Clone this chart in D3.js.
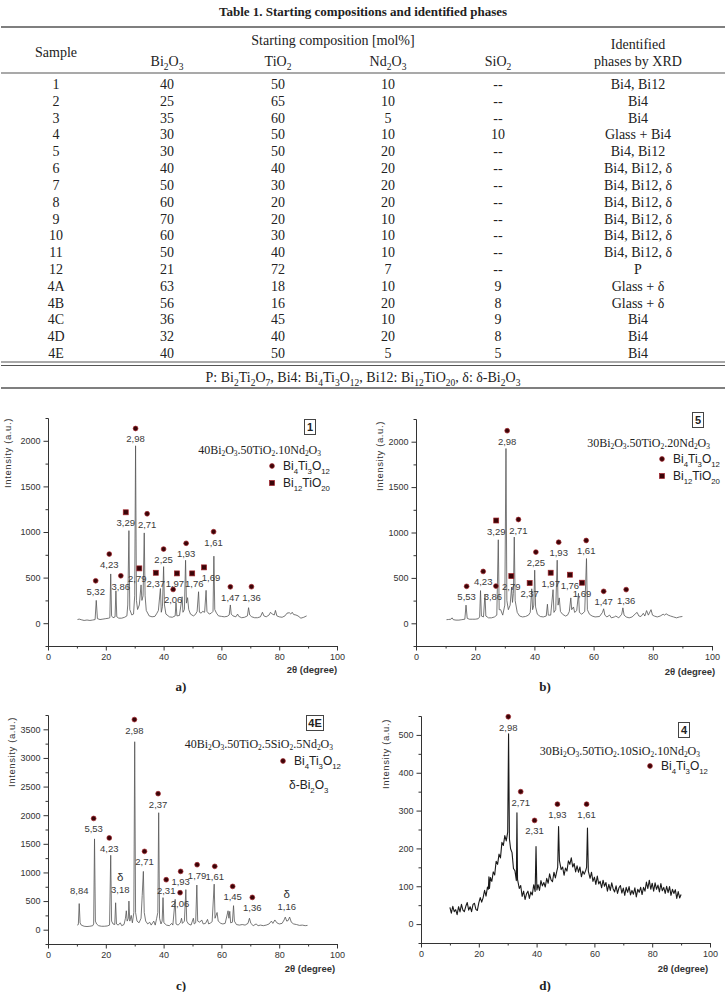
<!DOCTYPE html>
<html><head><meta charset="utf-8">
<script src="https://cdn.jsdelivr.net/npm/d3@7/dist/d3.min.js"></script>
<style>body{margin:0;background:#fff}svg{display:block}</style>
</head><body>
<svg id="fig" width="726" height="992"></svg>
<script>
// ---------- TABLE DATA ----------
const tableSamples = ["1","2","3","4","5","6","7","8","9","10","11","12","4A","4B","4C","4D","4E"];
const tableBi2O3 = ["40","25","35","30","30","40","50","60","70","60","50","21","63","56","36","32","40"];
const tableTiO2  = ["50","65","60","50","50","40","30","20","20","30","40","72","18","16","45","40","50"];
const tableNd2O3 = ["10","10","5","10","20","20","20","20","10","10","10","7","10","20","10","20","5"];
const tableSiO2  = ["--","--","--","10","--","--","--","--","--","--","--","--","9","8","9","8","5"];
const tablePhases = ["Bi4, Bi12","Bi4","Bi4","Glass + Bi4","Bi4, Bi12","Bi4, Bi12, δ","Bi4, Bi12, δ","Bi4, Bi12, δ","Bi4, Bi12, δ","Bi4, Bi12, δ","Bi4, Bi12, δ","P","Glass + δ","Glass + δ","Bi4","Bi4","Bi4"];
const tableOxides = ["Bi_2O_3","TiO_2","Nd_2O_3","SiO_2"];
const tableFootnote = "P: Bi_2Ti_2O_7, Bi4: Bi_4Ti_3O_12, Bi12: Bi_12TiO_20, δ: δ-Bi_2O_3";

// ---------- XRD DATA ----------
const xTicks = [0,20,40,60,80,100];
const xMinor = [10,30,50,70,90];
const yTicksAB = [0,500,1000,1500,2000];
const yTicksC = [0,500,1000,1500,2000,2500,3000,3500];
const yTicksD = [0,100,200,300,400,500];

const spectrumA = [[10.2,40],[10.8,45],[11.5,38],[12.5,30],[13.5,35],[14.5,30],[15.5,35],[16.3,40],[16.7,250],[17.1,50],[18,40],[19,45],[20,50],[21,55],[21.4,60],[21.7,540],[22.0,80],[22.5,60],[23.2,70],[23.5,355],[23.8,70],[24.5,55],[25.5,55],[26.5,65],[27.3,80],[27.6,200],[28.0,1015],[28.3,150],[29,90],[29.6,100],[30.0,300],[30.3,1945],[30.6,250],[31,150],[31.6,200],[32.2,420],[32.5,250],[32.9,300],[33.3,990],[33.6,300],[34,140],[35,80],[36,70],[37,75],[37.7,110],[38.2,140],[38.9,380],[39.2,120],[39.6,180],[40.0,620],[40.3,200],[40.8,100],[42,70],[43,65],[44.0,80],[44.3,225],[44.6,80],[45.5,85],[46.4,290],[46.7,120],[47.2,150],[47.6,690],[47.9,220],[48.3,280],[48.7,150],[49.3,100],[50.3,80],[51,95],[51.6,130],[52.1,345],[52.4,120],[53,110],[53.5,130],[54.2,120],[54.7,360],[55,130],[55.8,100],[56.5,110],[57.1,130],[57.4,735],[57.7,150],[58.3,110],[59,80],[60,75],[61,70],[62,75],[62.7,90],[63.1,200],[63.4,100],[64,80],[65,70],[65.6,100],[66,75],[67,60],[68,65],[69,80],[69.4,170],[69.8,90],[70.5,70],[71.5,60],[72.5,60],[73.5,70],[74.2,120],[74.7,80],[75.5,70],[76.5,90],[77,120],[77.6,100],[78.3,90],[78.7,140],[79.2,80],[80,70],[81,65],[82,80],[82.7,110],[83.5,115],[84,100],[84.5,120],[85,95],[85.8,90],[86.5,80],[87.5,55],[88.5,65],[89.5,80]];

const spectrumB = [[10.3,40],[11,42],[11.8,45],[12.2,60],[12.6,40],[13.5,35],[14.5,35],[15.5,40],[16.5,45],[16.9,200],[17.3,55],[18,45],[19,45],[20,45],[21,50],[21.5,70],[21.8,360],[22.1,80],[22.8,70],[23.3,320],[23.6,80],[24.5,60],[25.5,60],[26.5,70],[27.3,90],[27.8,920],[28.1,150],[28.6,150],[29.3,90],[30.0,200],[30.4,1925],[30.7,250],[31.2,150],[31.8,200],[32.3,400],[32.6,230],[32.9,330],[33.2,950],[33.5,250],[34.2,120],[35,80],[36,70],[37,75],[38,90],[38.6,120],[39.1,380],[39.4,150],[39.8,200],[40.1,585],[40.4,180],[41,100],[42,75],[43,70],[44.0,80],[44.4,210],[44.7,90],[45.5,90],[46.3,370],[46.6,120],[47.2,150],[47.7,695],[48.0,200],[48.4,280],[48.8,130],[49.5,100],[50.5,80],[51.2,90],[51.8,130],[52.3,280],[52.6,150],[53.2,180],[53.6,120],[54.3,140],[54.9,330],[55.2,120],[56,100],[57,130],[57.6,713],[57.9,150],[58.6,100],[59.5,80],[60.5,70],[62,75],[63,120],[63.4,160],[63.8,90],[64.5,70],[65.4,90],[66,60],[67,70],[67.5,80],[68.5,60],[69.5,100],[69.9,170],[70.3,90],[71,70],[72,60],[73,70],[74.3,110],[74.7,120],[75.3,80],[76,75],[76.8,110],[77.3,80],[77.9,140],[78.5,90],[79.4,150],[79.9,90],[80.5,80],[81.5,70],[82.5,80],[83.5,100],[84,90],[84.5,105],[85.2,90],[86,80],[87,70],[88,60],[89,70],[90,75]];

const spectrumC = [[10.1,80],[10.5,90],[10.8,456],[11.1,120],[11.5,80],[12.5,60],[13.5,55],[14.5,60],[15.5,70],[15.8,100],[16.1,1586],[16.4,150],[16.8,100],[17.5,70],[18.5,60],[19.5,60],[20.5,65],[21.3,80],[21.7,1300],[22.0,150],[22.5,100],[23.1,90],[23.4,470],[23.7,100],[24.3,80],[25,120],[25.5,70],[26.3,90],[26.8,200],[27.1,330],[27.4,150],[27.8,200],[28.0,500],[28.3,150],[28.8,250],[29.2,120],[29.7,300],[30.0,3283],[30.3,300],[30.8,150],[31.5,120],[32.2,200],[32.6,600],[33.0,1018],[33.3,300],[33.8,150],[34.5,100],[35.2,130],[35.7,80],[36.6,150],[37.1,80],[37.6,200],[38.0,300],[38.3,2043],[38.6,200],[39.1,100],[39.5,150],[39.8,560],[40.1,120],[41,80],[42,70],[42.8,110],[43.2,80],[44.0,530],[44.3,100],[45,80],[45.8,120],[46.2,200],[46.5,110],[47.2,150],[47.7,700],[48.0,150],[48.6,100],[49.5,80],[50.3,200],[50.6,100],[51.1,120],[51.5,780],[51.8,150],[52.5,130],[53.2,170],[53.7,100],[54.5,110],[55.2,180],[55.6,100],[56.3,120],[56.8,140],[57.5,795],[57.8,200],[58.5,300],[58.9,150],[59.8,110],[60.5,100],[61.3,110],[62.3,330],[62.6,200],[62.9,320],[63.2,120],[63.8,130],[64.2,420],[64.5,150],[65.2,90],[66.2,80],[67.2,90],[68.2,80],[69.2,110],[69.7,200],[70.2,110],[71,70],[72,100],[72.7,70],[73.5,80],[74.5,70],[75.5,80],[76.5,100],[77.3,150],[77.8,110],[78.5,170],[79.2,120],[80,100],[81,110],[81.7,170],[82.1,220],[82.6,150],[83.1,160],[83.6,220],[84.2,130],[85,100],[86,90],[87,75],[88,80],[89,70],[89.8,75]];

const spectrumD = [[10.0,44],[10.5,29],[11.0,47],[11.5,33],[12.0,38],[12.5,25],[13.0,46],[13.5,32],[14.0,52],[14.5,37],[15.0,33],[15.5,47],[16.0,57],[16.5,37],[17.0,46],[17.5,33],[18.0,52],[18.5,55],[19.0,39],[19.5,36],[20.0,56],[20.5,70],[21.0,58],[21.5,70],[22.0,89],[22.5,74],[23.0,98],[23.3,92],[23.5,125],[23.7,94],[24.0,123],[24.5,113],[25.0,138],[25.5,130],[26.0,166],[26.5,158],[27.0,185],[27.5,175],[28.0,216],[28.5,208],[29.0,234],[29.5,220],[30.0,243],[30.3,503],[30.6,225],[31.0,199],[31.5,189],[32.0,147],[32.5,141],[33.0,115],[33.2,294],[33.4,118],[34.0,94],[34.5,102],[35.0,73],[35.5,87],[36.0,65],[36.5,80],[37.0,87],[37.5,68],[38.0,85],[38.5,77],[39.0,104],[39.5,86],[39.8,205],[40.1,90],[40.5,104],[41.0,89],[41.5,115],[42.0,101],[42.5,110],[43.0,98],[43.5,121],[44.0,108],[44.5,133],[45.0,117],[45.5,112],[46.0,137],[46.5,122],[47.0,140],[47.3,150],[47.6,258],[47.9,168],[48.5,144],[49.0,151],[49.5,129],[50.0,148],[50.5,140],[51.0,167],[51.5,158],[52.0,175],[52.5,151],[53.0,160],[53.5,138],[54.0,154],[54.5,137],[55.0,151],[55.5,125],[56.0,140],[56.5,132],[57.0,142],[57.3,150],[57.6,254],[57.9,140],[58.5,121],[59.0,137],[59.5,113],[60.0,124],[60.5,105],[61.0,127],[61.5,106],[62.0,113],[62.5,96],[63.0,116],[63.5,100],[64.0,110],[64.5,87],[65.0,105],[65.5,89],[66.0,109],[66.5,93],[67.0,85],[67.5,101],[68.0,81],[68.5,96],[69.0,102],[69.5,82],[70.0,95],[70.5,76],[71.0,97],[71.5,84],[72.0,99],[72.5,77],[73.0,89],[73.5,79],[74.0,96],[74.5,72],[75.0,92],[75.5,84],[76.0,97],[76.5,78],[77.0,97],[77.5,87],[78.0,111],[78.5,94],[79.0,116],[79.5,92],[80.0,108],[80.5,87],[81.0,109],[81.5,92],[82.0,103],[82.5,85],[83.0,107],[83.5,88],[84.0,97],[84.5,81],[85.0,100],[85.5,83],[86.0,99],[86.5,76],[87.0,92],[87.5,81],[88.0,91],[88.5,68],[89.0,86],[89.5,69],[90.0,78]];

// peak annotations: [2θ, intensity of marker, label, kind]
const marksA = [[16.5,465,"5,32","c"],[21.2,758,"4,23","c"],[25.2,520,"3,86","c"],[26.9,1216,"3,29","s"],[30.3,2135,"2,98","c"],[31.6,601,"2,79","s"],[34.3,1200,"2,71","c"],[37.3,553,"2,37","s"],[40.0,813,"2,25","c"],[43.3,370,"2,06","c"],[44.6,546,"1,97","s"],[47.8,876,"1,93","c"],[49.9,546,"1,76","s"],[54.0,612,"1,69","s"],[57.3,1003,"1,61","c"],[63.1,399,"1,47","c"],[70.4,400,"1,36","c"]];
const marksB = [[17.1,407,"5,53","c"],[22.7,571,"4,23","c"],[27.0,410,"3,86","c"],[27.1,1132,"3,29","s"],[30.8,2121,"2,98","c"],[32.2,520,"2,79","s"],[34.6,1143,"2,71","c"],[38.4,443,"2,37","s"],[40.5,784,"2,25","c"],[45.5,557,"1,97","s"],[48.2,893,"1,93","c"],[52.0,535,"1,76","s"],[56.1,447,"1,69","s"],[57.5,912,"1,61","c"],[63.4,352,"1,47","c"],[71.0,371,"1,36","c"]];
const marksC = [[10.8,700,"8,84","n"],[15.8,1943,"5,53","c"],[21.2,1602,"4,23","c"],[25.0,925,"3,18","d"],[29.9,3670,"2,98","c"],[33.4,1368,"2,71","c"],[38.1,2376,"2,37","c"],[40.9,873,"2,31","c"],[45.9,1018,"1,93","c"],[45.7,646,"2,06","c"],[51.6,1135,"1,79","c"],[57.7,1106,"1,61","c"],[63.9,756,"1,45","c"],[70.7,564,"1,36","c"],[82.6,623,"1,16","d"]];
const marksD = [[30.2,548,"2,98","c"],[34.5,350,"2,71","c"],[39.3,274,"2,31","c"],[47.2,317,"1,93","c"],[57.3,317,"1,61","c"]];

// ---------- helpers ----------
const svg = d3.select("#fig");
svg.append("rect").attr("width",726).attr("height",992).attr("fill","#fff");
const SERIF = "'Liberation Serif','Times New Roman',serif";
const SANS = "'Liberation Sans',Arial,sans-serif";

function rich(t, str, fs, subRatio = 0.68, shift = 0.28) {
  const parts = str.split(/(_\d+)/);
  let sub = false;
  parts.forEach(p => {
    if (!p) return;
    if (p.startsWith("_")) {
      t.append("tspan").attr("dy", sub ? 0 : fs * shift).attr("font-size", fs * subRatio).text(p.slice(1));
      sub = true;
    } else {
      t.append("tspan").attr("dy", sub ? -fs * shift : 0).text(p);
      sub = false;
    }
  });
  return t;
}

// ---------- TABLE ----------
const tbl = svg.append("g").attr("font-family", SERIF).attr("fill", "#222");
tbl.append("text").attr("x", 363).attr("y", 16).attr("text-anchor","middle")
   .attr("font-size", 13).attr("font-weight","bold").text("Table 1. Starting compositions and identified phases");

const rules = [[27,1.6],[73,1.2],[362,1],[365.5,1],[388,1.6]];
tbl.selectAll("line.rule").data(rules).join("line").attr("class","rule")
   .attr("x1",1).attr("x2",725).attr("y1",d=>d[0]).attr("y2",d=>d[0])
   .attr("stroke","#555").attr("stroke-width",d=>d[1]);

const colX = d3.scaleOrdinal().domain(["s","bi","ti","nd","si","ph"]).range([56,167,278,388,498,638]);
tbl.append("text").attr("x",333).attr("y",45).attr("text-anchor","middle").attr("font-size",14).text("Starting composition [mol%]");
tbl.append("text").attr("x",colX("s")).attr("y",57).attr("text-anchor","middle").attr("font-size",14).text("Sample");
tbl.append("text").attr("x",colX("ph")).attr("y",49).attr("text-anchor","middle").attr("font-size",14).text("Identified");
tbl.append("text").attr("x",colX("ph")).attr("y",66).attr("text-anchor","middle").attr("font-size",14).text("phases by XRD");
["bi","ti","nd","si"].forEach((k,i) => {
  rich(tbl.append("text").attr("x",colX(k)).attr("y",66).attr("text-anchor","middle").attr("font-size",14), tableOxides[i], 14);
});

const rowY = d3.scaleLinear().domain([0,16]).range([89,358]);
const cols = [["s",tableSamples],["bi",tableBi2O3],["ti",tableTiO2],["nd",tableNd2O3],["si",tableSiO2],["ph",tablePhases]];
cols.forEach(([k,arr]) => {
  tbl.selectAll(null).data(arr).join("text")
    .attr("x", colX(k)).attr("y",(d,i)=>rowY(i)).attr("text-anchor","middle").attr("font-size",14).text(d=>d);
});
rich(tbl.append("text").attr("x",363).attr("y",382).attr("text-anchor","middle").attr("font-size",14), tableFootnote, 14);

// ---------- PANELS ----------
const panels = [
  {data: spectrumA, marks: marksA, xr:[48,337], yb:646, yt:418, yd:[-250,2250], yt_:yTicksAB, ym:250,
   box:"1", boxC:[310,427], comp:"40Bi_2O_3.50TiO_2.10Nd_2O_3", compR:[321,454],
   leg:[[272,466,"c","Bi_4Ti_3O_12"],[272,483,"s","Bi_12TiO_20"]],
   ylab:[8,453], xlab:[312,673], cap:["a)",181,691], lineCol:"#555", lw:0.8,
   labShift:{"2,79":-2,"2,37":0,"1,97":-2,"1,76":2,"1,69":7}},
  {data: spectrumB, marks: marksB, xr:[416,712], yb:646, yt:419, yd:[-250,2250], yt_:yTicksAB, ym:250,
   box:"5", boxC:[698,420], comp:"30Bi_2O_3.50TiO_2.20Nd_2O_3", compR:[710,447],
   leg:[[662,459,"c","Bi_4Ti_3O_12"],[662,476,"s","Bi_12TiO_20"]],
   ylab:[380,456], xlab:[690,675], cap:["b)",545,691], lineCol:"#555", lw:0.8, labShift:{"3,86":-3}},
  {data: spectrumC, marks: marksC, xr:[48,337], yb:944, yt:715, yd:[-250,3750], yt_:yTicksC, ym:250,
   box:"4E", boxC:[315,723], comp:"40Bi_2O_3.50TiO_2.5SiO_2.5Nd_2O_3", compR:[333,748],
   leg:[[283,761,"c","Bi_4Ti_3O_12"],[283,785,"n","δ-Bi_2O_3"]],
   ylab:[12,752], xlab:[310,972], cap:["c)",181,990], lineCol:"#555", lw:0.8, labShift:{}},
  {data: spectrumD, marks: marksD, xr:[421,710], yb:943, yt:716, yd:[-50,550], yt_:yTicksD, ym:50,
   box:"4", boxC:[684,730], comp:"30Bi_2O_3.50TiO_2.10SiO_2.10Nd_2O_3", compR:[700,755],
   leg:[[650,766,"c","Bi_4Ti_3O_12"]],
   ylab:[386,754], xlab:[683,972], cap:["d)",545,990], lineCol:"#1a1a1a", lw:1.1, labShift:{}}
];

const MARK_FILL = "#3a0508", MARK_STROKE = "#a3232a";
function drawMark(g, kind, cx, cy) {
  if (kind === "c") g.append("circle").attr("cx",cx).attr("cy",cy).attr("r",2.4).attr("fill",MARK_FILL).attr("stroke",MARK_STROKE).attr("stroke-width",0.7);
  else if (kind === "s") g.append("rect").attr("x",cx-2.5).attr("y",cy-2.5).attr("width",5).attr("height",5).attr("fill",MARK_FILL).attr("stroke",MARK_STROKE).attr("stroke-width",0.7);
  else if (kind === "d") g.append("text").attr("x",cx).attr("y",cy+4).attr("text-anchor","middle").attr("font-family",SANS).attr("font-size",11.5).attr("fill","#333").text("δ");
}

panels.forEach(p => {
  const g = svg.append("g");
  const x = d3.scaleLinear().domain([0,100]).range(p.xr);
  const y = d3.scaleLinear().domain(p.yd).range([p.yb, p.yt]);
  const yMinor = d3.range(p.yd[0], p.yd[1] + 1, p.ym).filter(v => !p.yt_.includes(v));

  const styleAxis = a => {
    a.select(".domain").attr("stroke","#333").attr("stroke-width",1);
    a.selectAll(".tick line").attr("stroke","#333");
    a.selectAll(".tick text").attr("font-family",SANS).attr("font-size",9).attr("fill","#333");
  };
  g.append("g").attr("transform",`translate(0,${p.yb})`)
    .call(d3.axisBottom(x).tickValues(xMinor).tickSize(2.5).tickSizeOuter(0).tickFormat(""))
    .call(styleAxis);
  g.append("g").attr("transform",`translate(0,${p.yb})`)
    .call(d3.axisBottom(x).tickValues(xTicks).tickSize(4.5).tickSizeOuter(0).tickPadding(3).tickFormat(d3.format("d")))
    .call(styleAxis);
  g.append("g").attr("transform",`translate(${p.xr[0]},0)`)
    .call(d3.axisLeft(y).tickValues(yMinor).tickSize(2.5).tickSizeOuter(0).tickFormat(""))
    .call(styleAxis);
  g.append("g").attr("transform",`translate(${p.xr[0]},0)`)
    .call(d3.axisLeft(y).tickValues(p.yt_).tickSize(4.5).tickSizeOuter(0).tickPadding(3).tickFormat(d3.format("d")))
    .call(styleAxis);

  // spectrum
  g.append("path").datum(p.data)
    .attr("d", d3.line().x(d=>x(d[0])).y(d=>y(d[1])))
    .attr("fill","none").attr("stroke",p.lineCol).attr("stroke-width",p.lw).attr("stroke-linejoin","round");

  // peak marks + labels
  p.marks.forEach(([t,v,lab,kind]) => {
    const cx = x(t), cy = y(v);
    drawMark(g, kind, cx, cy);
    const off = kind === "d" ? 16 : (kind === "n" ? 4 : 14);
    g.append("text").attr("x",cx + (p.labShift[lab] || 0)).attr("y",cy+off).attr("text-anchor","middle")
      .attr("font-family",SANS).attr("font-size",9.5).attr("fill","#3a3a3a").text(lab);
  });

  // axis titles
  g.append("text").attr("transform",`translate(${p.ylab[0]},${p.ylab[1]}) rotate(-90)`)
    .attr("text-anchor","middle").attr("dy","0.35em").attr("font-family",SANS).attr("font-size",9.5)
    .attr("letter-spacing",0.6).attr("fill","#333").text("Intensity (a.u.)");
  g.append("text").attr("x",p.xlab[0]).attr("y",p.xlab[1]).attr("text-anchor","middle")
    .attr("font-family",SANS).attr("font-size",9.5).attr("font-weight","bold").attr("fill","#333").text("2θ (degree)");

  // sample box
  const bw = p.box.length > 1 ? 17 : 11;
  g.append("rect").attr("x",p.boxC[0]-bw/2).attr("y",p.boxC[1]-7.5).attr("width",bw).attr("height",15)
    .attr("fill","#fff").attr("stroke","#444").attr("stroke-width",1);
  g.append("text").attr("x",p.boxC[0]).attr("y",p.boxC[1]+4).attr("text-anchor","middle")
    .attr("font-family",SANS).attr("font-size",11).attr("font-weight","bold").attr("fill","#222").text(p.box);

  // composition text
  rich(g.append("text").attr("x",p.compR[0]).attr("y",p.compR[1]).attr("text-anchor","end")
    .attr("font-family",SERIF).attr("font-size",12).attr("fill","#222"), p.comp, 12, 0.62, 0.15);

  // legend
  p.leg.forEach(([lx,ly,kind,txt]) => {
    drawMark(g, kind, lx, ly);
    const tx = kind === "n" ? lx + 6 : lx + 11;
    rich(g.append("text").attr("x",tx).attr("y",ly+4).attr("font-family",SANS).attr("font-size",12).attr("fill","#222"), txt, 12, 0.65, 0.3);
  });

  // caption
  svg.append("text").attr("x",p.cap[1]).attr("y",p.cap[2]).attr("text-anchor","middle")
    .attr("font-family",SERIF).attr("font-size",13).attr("font-weight","bold").attr("fill","#222").text(p.cap[0]);
});
</script>
</body></html>
